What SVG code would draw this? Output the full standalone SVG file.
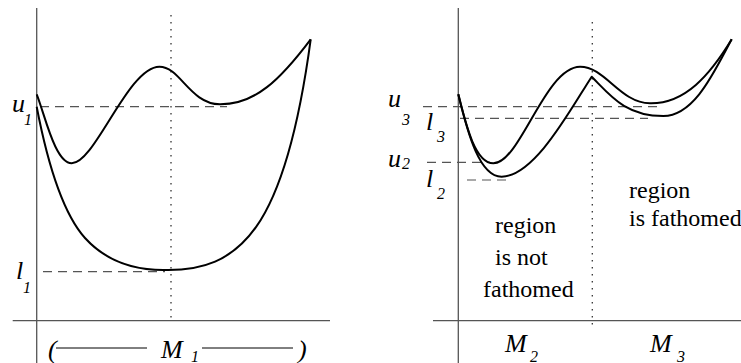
<svg xmlns="http://www.w3.org/2000/svg" width="741" height="363" viewBox="0 0 741 363">
<style>
.axis{stroke:#555;stroke-width:1.3;fill:none}
.curve{stroke:#000;stroke-width:2;fill:none;stroke-linejoin:round}
.dash{stroke:#555;stroke-width:1.2;stroke-dasharray:9 6;fill:none}
.dot{stroke:#333;stroke-width:1.3;stroke-dasharray:1.5 5.5;fill:none}
.solid{stroke:#000;stroke-width:1;fill:none}
</style>
<rect width="741" height="363" fill="#fff"/>
<g id="left-panel">
  <line class="axis" x1="36.7" y1="8" x2="36.7" y2="363"/>
  <line class="axis" x1="12.7" y1="320.7" x2="330" y2="320.7"/>
  <line class="dot" x1="171" y1="15" x2="171" y2="320"/>
  <line class="dash" x1="40" y1="106.7" x2="227" y2="106.7"/>
  <line class="dash" x1="43" y1="271.7" x2="165" y2="271.7"/>
  <path class="curve" d="M36.7 94.3 C45 115,55 163,71.7 163.3 C95 163.5,128 67,159.3 66.7 C180 66.5,190 104,220 104.3 C255 104.5,280 80,310.7 39.3"/>
  <path class="curve" d="M36.7 106.7 C45 150,60 210,85 238 C105 260,130 270,163.3 270 C240 272,285 230,310.7 39.3"/>
  <g font-family="Liberation Serif, serif" font-style="italic" fill="#000">
    <g font-size="26">
      <text x="12" y="112">u</text>
      <text x="16" y="279">l</text>
      <text x="48" y="358">(</text>
      <text x="161" y="358">M</text>
      <text x="298" y="358">)</text>
    </g>
    <g font-size="16">
      <text x="24" y="125">1</text>
      <text x="23" y="293">1</text>
      <text x="191" y="362">1</text>
    </g>
  </g>
  <line class="solid" x1="56" y1="348" x2="147" y2="348"/>
  <line class="solid" x1="202" y1="348" x2="293" y2="348"/>
</g>
<g id="right-panel">
  <line class="axis" x1="458.3" y1="8" x2="458.3" y2="363"/>
  <line class="axis" x1="433" y1="320.7" x2="741" y2="320.7"/>
  <line class="dot" x1="592.3" y1="22" x2="592.3" y2="327"/>
  <line class="dash" x1="423" y1="106.7" x2="660" y2="106.7"/>
  <line class="dash" x1="460" y1="118.3" x2="648" y2="118.3"/>
  <line class="dash" x1="427" y1="162.3" x2="490" y2="162.3"/>
  <line class="dash" x1="467" y1="180" x2="507" y2="180"/>
  <path class="curve" d="M458.3 94.3 C466 125,475 163,493.3 163.3 C520 163.5,545 67,580 66.7 C605 66.5,620 103,650 103.3 C685 104,710 75,731.7 39.3"/>
  <path class="curve" d="M458.3 94.3 C468 135,480 177,501.7 176.7 C535 176,570 110,591.7 76.7 C610 95,625 116,663.3 116 C695 116,715 70,731.7 39.3"/>
  <g font-family="Liberation Serif, serif" font-style="italic" fill="#000">
    <g font-size="26">
      <text x="388" y="107">u</text>
      <text x="426" y="130">l</text>
      <text x="388" y="167">u</text>
      <text x="426" y="187">l</text>
      <text x="505" y="352">M</text>
      <text x="650" y="352">M</text>
    </g>
    <g font-size="16">
      <text x="402" y="125">3</text>
      <text x="437" y="142">3</text>
      <text x="402" y="169">2</text>
      <text x="437" y="199">2</text>
      <text x="530" y="362">2</text>
      <text x="677" y="362">3</text>
    </g>
  </g>
  <g font-family="Liberation Serif, serif" font-size="24" fill="#000">
    <text x="495" y="233">region</text>
    <text x="495" y="265">is not</text>
    <text x="483" y="297">fathomed</text>
    <text x="629" y="198">region</text>
    <text x="629" y="226">is fathomed</text>
  </g>
</g>
</svg>
